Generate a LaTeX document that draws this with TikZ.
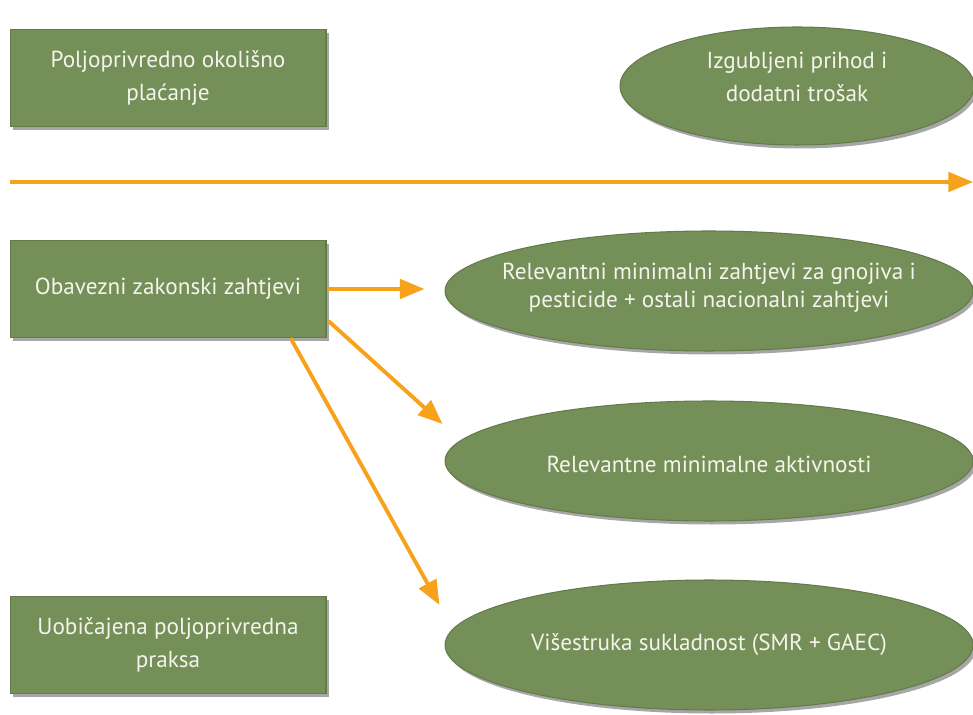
\documentclass[tikz,border=0pt]{standalone}
\usepackage{fontspec}
\setmainfont{PT Sans}
\usepackage{tikz}
\usetikzlibrary{arrows.meta, calc, positioning, shapes, shadows}
\definecolor{LEAF}{HTML}{748F58}
\definecolor{ARROW}{HTML}{F7A21B}
\definecolor{INK}{HTML}{F4F4EC}
\tikzset{
  LVL/.style={% Style for the level boxes
      rectangle,
      align=center,
      minimum width=6.32cm,
      minimum height=1.94cm,
      text=INK,
      font=\fontsize{13.2}{18.8}\selectfont,
      fill=LEAF,
      draw=LEAF!85!black, line width=.6pt,
      drop shadow={shadow xshift=1.6pt, shadow yshift=-2pt, opacity=.35, fill=black},
  },
  REQ/.style={% Style for the ellipses, text goes in a centered label
      ellipse,
      inner sep=0pt,
      minimum width=10.56cm,
      minimum height=2.4cm,
      fill=LEAF,
      draw=LEAF!85!black, line width=.6pt,
      drop shadow={shadow xshift=1.6pt, shadow yshift=-2pt, opacity=.35, fill=black},
  },
  TXT/.style={
      text=INK,
      align=center,
      font=\fontsize{13.2}{18.8}\selectfont,
  },
  flow/.style={
      draw=ARROW,
      line width=2.2pt,
      -{Triangle[length=14pt,width=11pt]},
  }
}
\begin{document}
\begin{tikzpicture}[x=0.02cm, y=-0.02cm]
    \clip (0,0) rectangle (973,715);
    % levels on the left
    \node[LVL] (agri) at (168,78) {Poljoprivredno okolišno\\plaćanje};
    \node[LVL] (oblig) at (168,289) {Obavezni zakonski zahtjevi};
    \node[LVL] (usual) at (168,645) {Uobičajena poljoprivredna\\praksa};
    % ellipses on the right
    \node[REQ, minimum width=7.08cm, minimum height=2.36cm,
      label={[TXT, yshift=5pt]center:{Izgubljeni prihod i\\dodatni trošak}}] (lost) at (797,86) {};
    \node[REQ, label={[TXT, font=\fontsize{13.2}{16}\selectfont, yshift=2pt]center:{Relevantni minimalni zahtjevi za gnojiva i\\pesticide + ostali nacionalni zahtjevi}}] (rel1) at (709,291) {};
    \node[REQ, label={[TXT, yshift=-2pt]center:{Relevantne minimalne aktivnosti}}] (rel2) at (709,461) {};
    \node[REQ, minimum height=2.6cm, label={[TXT]center:{Višestruka sukladnost (SMR + GAEC)}}] (cross) at (709,645) {};
    % the long arrow
    \coordinate (axisL) at (10,182);
    \coordinate (axisR) at (973,182);
    \draw[flow] (axisL) -- (axisR);
    % arrows from the obligatory level
    \draw[flow] (oblig.east) -- ($(rel1.west)+(-20,-2)$);
    \draw[flow] ($(oblig.east)+(2,32)$) -- ($(rel2.west)+(-2,-37)$);
    \draw[flow] ($(oblig.south east)+(-36,0)$) -- ($(cross.west)+(-5,-40)$);
\end{tikzpicture}
\end{document}
